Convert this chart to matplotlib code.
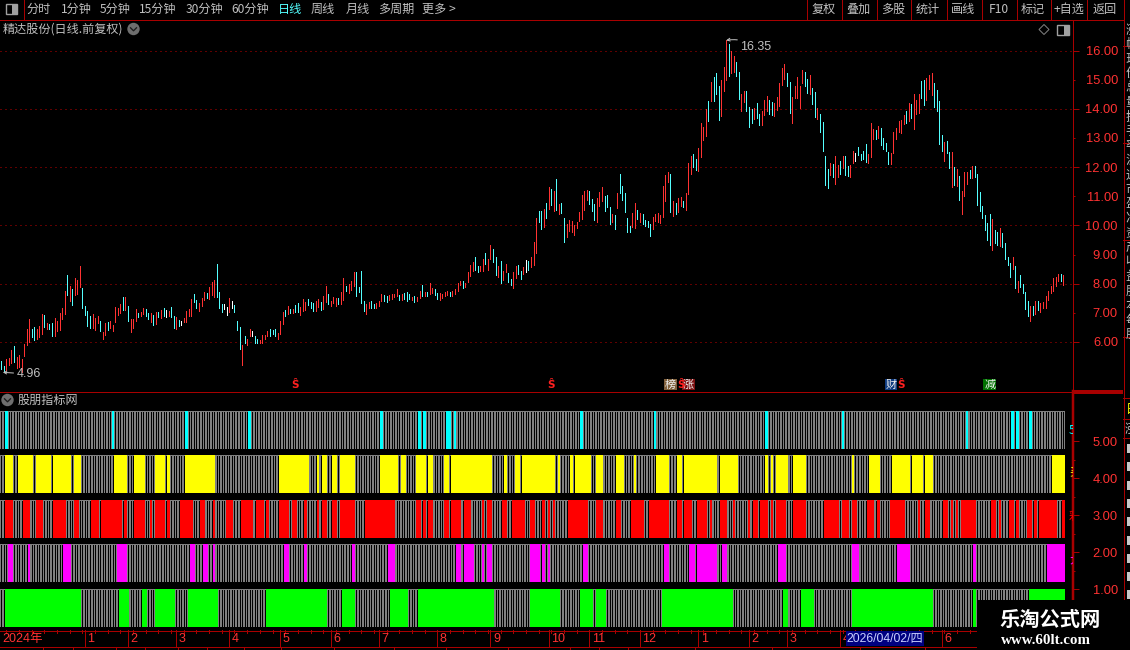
import numpy as np
import matplotlib
matplotlib.use("Agg")
import matplotlib.pyplot as plt
from matplotlib.patches import Rectangle, Circle, Polygon

CJK = ['Noto Sans CJK SC', 'DejaVu Sans']
NUM = ['Liberation Sans', 'Noto Sans CJK SC']
plt.rcParams['font.family'] = CJK

# ---------- daily bars ----------
highs = [
 5.35,5.18,5.41,5.44,5.73,5.86,5.47,5.55,5.42,5.92,
 6.45,6.79,6.43,6.50,6.43,6.55,6.96,6.93,6.64,6.62,
 6.64,6.81,6.73,6.98,7.16,7.75,8.30,7.92,7.81,8.18,
 8.13,8.61,7.86,7.24,7.08,6.90,6.96,6.81,6.90,6.72,
 6.36,6.64,6.70,6.72,6.58,7.21,7.16,7.29,7.54,7.54,
 7.24,6.79,6.78,7.13,7.01,7.04,7.18,7.13,6.98,7.01,
 6.93,7.04,7.02,7.10,7.16,7.10,7.08,7.21,6.89,6.85,
 6.76,6.73,6.81,7.06,7.12,7.46,7.65,7.44,7.35,7.52,
 7.73,7.69,7.88,8.05,8.13,8.68,7.73,7.30,7.30,7.19,
 7.52,7.41,7.27,6.72,6.50,5.90,6.21,6.10,6.45,6.38,
 6.21,6.10,6.07,6.24,6.24,6.38,6.45,6.41,6.45,6.32,
 6.72,7.04,7.10,7.24,7.12,7.12,7.27,7.35,7.21,7.48,
 7.38,7.46,7.36,7.33,7.41,7.46,7.38,7.58,7.92,7.65,
 7.42,7.56,7.50,7.50,7.70,8.18,7.92,7.99,8.10,8.39,
 8.41,7.87,
 8.44,7.41,7.30,7.38,7.41,7.30,7.34,7.41,7.65,7.61,
 7.58,7.61,7.65,7.65,7.82,7.61,7.63,7.68,7.71,7.65,
 7.55,7.58,7.54,7.75,7.95,7.71,7.71,8.02,7.85,7.82,
 7.68,7.68,7.65,7.71,7.75,7.71,7.75,7.82,8.02,8.09,
 8.09,8.02,8.40,8.64,8.74,8.92,8.61,8.61,8.85,9.05,
 8.85,9.33,9.19,8.92,8.61,8.78,8.44,8.68,8.37,8.16,
 8.40,8.61,8.64,8.44,8.57,8.81,8.78,8.92,9.43,
 10.24,10.49,10.49,10.56,10.77,11.31,11.25,11.18,11.59,10.73,
 10.77,10.25,10.05,10.18,10.15,10.01,10.11,10.46,11.04,11.18,
 11.21,11.18,10.90,10.73,10.94,11.14,11.31,11.00,11.04,10.63,
 10.39,10.35,11.11,11.76,11.35,11.11,10.25,9.98,10.42,10.77,
 10.53,10.42,10.39,10.18,10.15,10.05,10.29,10.39,10.42,10.35,
 11.35,11.73,11.83,11.76,10.83,10.77,10.94,10.97,10.83,11.11,
 12.14,12.38,12.45,12.28,12.65,
 13.50,13.36,14.01,14.26,14.92,15.09,15.22,14.78,14.98,15.43,
 16.35,16.21,15.98,15.81,15.60,15.26,14.50,14.61,14.61,14.06,
 13.99,14.02,14.20,13.82,13.92,14.30,14.44,14.30,14.23,14.20,
 14.40,14.88,15.40,15.53,15.22,14.92,14.40,14.78,15.09,14.78,
 15.33,15.26,15.02,15.16,14.71,14.57,14.02,13.82,13.54,12.38,
 11.93,12.13,12.10,12.38,12.07,12.21,12.38,12.38,12.03,12.07,
 12.55,12.48,12.69,12.45,12.55,12.79,12.45,13.51,13.30,13.27,
 13.41,13.34,13.00,12.82,12.51,12.48,13.20,13.34,13.58,13.61,
 13.78,13.92,14.20,14.16,14.50,14.30,14.50,14.95,14.98,15.05,
 15.16,15.22,14.88,14.64,14.26,13.10,12.86,12.89,12.51,12.51,
 12.00,11.93,11.69,
 11.18,11.83,11.83,11.90,12.04,12.04,11.76,11.14,10.66,10.36,
 10.08,10.39,10.22,9.84,9.77,9.91,9.74,9.40,8.92,8.71,
 8.92,8.61,8.09,8.30,7.99,7.71,7.41,7.23,7.23,7.41,
 7.41,7.34,7.37,7.58,7.75,7.92,8.19,8.23,8.33,8.33,8.30,
]
lows = [
 5.07,4.96,5.04,5.21,5.27,5.33,5.10,5.15,4.98,5.52,
 5.90,5.99,6.16,6.07,6.09,6.16,6.27,6.50,6.43,6.45,
 6.21,6.21,6.39,6.41,6.79,6.96,7.61,7.41,7.27,7.61,
 7.65,7.90,7.18,6.93,6.55,6.47,6.49,6.41,6.66,6.38,
 6.10,6.24,6.41,6.49,6.38,6.70,6.93,6.98,7.10,7.10,
 6.72,6.36,6.47,6.72,6.87,6.89,6.96,6.89,6.78,6.70,
 6.58,6.62,6.87,6.83,6.89,6.87,6.89,6.85,6.49,6.45,
 6.55,6.58,6.67,6.67,6.90,6.90,7.36,7.16,7.06,7.24,
 7.44,7.50,7.48,7.61,7.56,7.56,7.16,7.04,7.12,6.93,
 7.02,7.16,7.02,6.41,5.76,5.21,5.96,5.90,6.21,6.21,
 5.98,5.98,5.98,5.98,6.09,6.21,6.22,6.26,6.21,6.10,
 6.27,6.62,6.90,6.95,6.98,6.98,7.02,7.02,6.93,7.08,
 7.10,7.27,7.16,7.08,7.06,7.19,7.10,7.13,7.36,7.30,
 7.24,7.33,7.24,7.29,7.30,7.44,7.75,7.69,7.78,7.93,
 7.58,7.73,
 7.33,7.06,6.96,7.18,7.18,7.17,7.18,7.23,7.41,7.42,
 7.37,7.44,7.46,7.54,7.58,7.44,7.44,7.47,7.41,7.47,
 7.44,7.37,7.41,7.51,7.58,7.58,7.58,7.65,7.68,7.61,
 7.47,7.44,7.51,7.58,7.61,7.58,7.58,7.65,7.75,7.95,
 7.85,7.89,8.06,8.26,8.44,8.47,8.40,8.44,8.44,8.68,
 8.47,8.85,8.74,8.30,8.23,8.02,8.13,8.40,8.06,7.95,
 7.85,8.20,8.33,8.16,8.33,8.40,8.47,8.57,8.64,
 9.05,10.11,9.87,9.94,10.25,10.56,10.70,10.48,10.53,10.39,
 10.42,9.43,9.60,9.81,9.77,9.67,9.91,10.15,10.22,10.53,
 10.87,10.73,10.49,10.18,10.11,10.66,10.83,10.49,10.63,10.05,
 10.11,9.87,10.59,11.11,10.87,10.46,9.77,9.77,9.94,9.91,
 10.22,10.11,10.05,9.98,9.94,9.63,9.87,10.15,10.11,10.08,
 10.29,10.83,11.49,10.46,10.32,10.39,10.46,10.66,10.63,10.53,
 11.07,11.76,12.00,11.90,11.86,
 12.34,12.93,13.06,13.59,14.26,14.26,14.50,13.61,13.75,14.61,
 14.98,15.12,15.24,15.27,15.12,14.33,13.92,14.23,13.92,13.37,
 13.51,13.65,13.68,13.44,13.44,13.78,13.92,13.82,13.78,13.75,
 13.96,14.09,14.81,15.02,14.78,13.85,13.51,14.37,14.37,14.02,
 14.88,14.78,14.54,14.50,14.16,13.72,13.65,13.20,12.55,11.38,
 11.28,11.73,11.66,11.42,11.66,11.76,11.97,11.73,11.71,11.66,
 12.14,12.21,12.41,12.24,12.27,12.17,12.14,12.34,12.96,12.96,
 13.00,12.75,12.62,12.55,12.10,12.10,12.48,12.96,13.20,13.17,
 13.48,13.51,13.58,13.68,13.30,13.82,13.85,14.37,14.13,14.30,
 14.68,14.47,14.06,13.92,12.79,12.55,12.21,12.48,11.97,11.31,
 11.38,11.35,10.87,
 10.39,11.01,11.42,11.62,11.62,11.66,10.70,10.49,10.25,9.84,
 9.50,9.33,9.16,9.40,9.33,9.29,9.26,8.85,8.64,8.23,
 8.50,7.85,7.71,7.89,7.68,7.13,6.89,6.72,6.93,6.96,
 7.10,7.03,7.17,7.17,7.44,7.68,7.75,7.92,8.09,8.09,7.95,
]
kinds = (
 "ccrrrcrrrr" "rrccrrrcrc" "crrrrrcrcr" "rrccccrrrc" "rrcrrrrrcr"
 "crrrcrrccr" "crcrcwrccr" "cwrrrrccrr" "rcrrrcccww" "rwcccrcrrw"
 "ccrrrrcccr" "rrcrcrccrr" "rcccrrcrrc" "rrrcrrcrrr" "cc"
 "ccrrccrrrc" "crrrrcrccc" "rcrrcrcrrc" "crrrrcrrrr" "crrrrccrrc"
 "rrccrcrrcc" "rrccrwcrr"
 "rccrcrcrcr" "ccrrrrrrrr" "rcccrrrccc" "rcrcccccrr" "crccccrrrr"
 "rrrcrcrrcr" "rrccr"
 "rrrcrcccrr" "rcrrccrrcc" "crccrrrccr" "rrrrccrrrr" "rccrccrccc"
 "crcrrcrccr" "rwccccrrrc" "rccccrrrrr" "rcrcrrrccr" "rrccccrccr" "crc"
 "rrrcrccccc" "ccrccrcccc" "rcrccccrcr" "crrrrrrrrcr"
)
kind_colors = {'r': '#ff3232', 'c': '#54ffff', 'w': '#ffffff'}

price_major = [6, 8, 10, 12, 14, 16]
price_minor = [7, 9, 11, 13, 15]
high_label = 16.35
low_label = 4.96

# ---------- indicator strips: runs of highlighted bars ----------
cyan_runs = [(2,2),(44,44),(73,73),(98,98),(150,150),(165,165),(167,167),(176,177),(179,179),
             (229,229),(258,258),(302,302),(332,332),(381,381),(399,399),(401,401),(406,406)]
yellow_runs = [(2,4),(7,12),(14,19),(21,27),(29,31),(45,49),(53,56),(61,64),(66,66),(73,84),
               (110,121),(125,125),(127,128),(131,132),(134,139),(150,156),(158,159),(164,167),
               (169,170),(175,176),(178,193),(199,199),(203,204),(206,218),(220,220),(225,225),
               (227,232),(235,237),(243,245),(250,250),(259,263),(267,268),(270,282),(284,290),
               (302,302),(304,304),(306,310),(313,317),(336,336),(343,346),(352,358),(360,363),
               (365,367),(415,419)]
red_runs = [(2,4),(9,11),(14,16),(21,25),(29,30),(36,38),(40,47),(49,49),(53,56),(59,59),
            (61,64),(66,66),(71,75),(79,80),(84,84),(89,91),(95,99),(101,103),(105,105),
            (110,113),(115,116),(120,120),(125,125),(127,128),(131,132),(134,139),(144,155),
            (164,165),(167,167),(169,170),(175,176),(178,181),(183,185),(190,190),(192,193),
            (198,199),(202,206),(209,210),(214,214),(216,216),(218,218),(224,231),(235,237),
            (243,244),(249,253),(256,263),(267,268),(270,272),(275,278),(280,280),(284,286),
            (289,289),(295,295),(297,298),(300,302),(304,304),(306,309),(313,317),(325,330),
            (332,334),(336,337),(342,344),(346,346),(351,356),(362,362),(365,366),(372,373),
            (375,375),(377,377),(379,384),(391,392),(394,394),(398,399),(401,401),(405,406),
            (408,408),(410,416),(419,419)]
magenta_runs = [(3,4),(11,11),(25,27),(46,49),(75,76),(80,81),(84,84),(112,113),(120,120),
                (139,139),(153,155),(180,181),(183,186),(190,190),(192,193),(209,212),(214,214),
                (216,216),(230,231),(262,263),(272,273),(275,282),(285,286),(307,309),(336,338),
                (354,358),(384,384),(413,419)]
green_runs = [(2,31),(47,50),(56,57),(61,68),(74,85),(105,128),(135,139),(154,160),(165,194),
              (209,220),(229,233),(235,238),(261,288),(309,310),(316,320),(336,367),(384,384),
              (406,419)]
strip_runs = [cyan_runs, yellow_runs, red_runs, magenta_runs, green_runs]
strip_colors = ['#00ffff', '#ffff00', '#ff0000', '#ff00ff', '#00ff00']
strip_tops = [5.82, 4.63, 3.41, 2.22, 1.01]
strip_bottoms = [4.79, 3.60, 2.39, 1.20, -0.02]
ind_major = [1, 2, 3, 4, 5]
ind_minor = [1.5, 2.5, 3.5, 4.5]

# ---------- time axis ----------
month_bars = [33, 50, 69, 90, 110, 130, 149, 172, 193, 216, 232, 252, 275, 295, 310, 331, 371]
month_names = ['1', '2', '3', '4', '5', '6', '7', '8', '9', '10', '11', '12', '1', '2', '3', '4', '6']

# ---------- event flags on the price pane ----------
s_bars = [116, 217, 268, 355]
flag_bars = [264, 271, 351, 390]
flag_text = ['榜', '涨', '财', '减']
flag_back = ['#80603c', '#7a1010', '#103c80', '#007000']

toolbar_left = ['分时', '1分钟', '5分钟', '15分钟', '30分钟', '60分钟', '日线', '周线', '月线', '多周期', '更多 >']
toolbar_left_x = [39, 76, 115, 158, 204, 250, 290, 323, 358, 396, 439]
toolbar_right = ['复权', '叠加', '多股', '统计', '画线', 'F10', '标记', '+自选', '返回']
toolbar_right_x = [824, 858, 893, 928, 963, 999, 1033, 1069, 1105]
toolbar_seps = [807, 841.5, 876.5, 911, 946.5, 981.5, 1016.5, 1051, 1087]

# ---------- layout ----------
W, H = 1130, 650
DARKRED = '#a80000'
LABEL_RED = '#ff3232'
GRAY_TXT = '#c0c0c0'
n = len(highs)
s = (1063.3 - 1.3) / (n - 1)
PT = 0.72

fig = plt.figure(figsize=(W / 100, H / 100), dpi=100, facecolor='black')

def box(x0, y0, x1, y1, **kw):
    a = fig.add_axes([x0 / W, 1 - y1 / H, (x1 - x0) / W, (y1 - y0) / H], **kw)
    a.set_facecolor('black')
    return a

AX_R = 1072.5
x_lim = ((0 - 1.3) / s, (AX_R - 1.3) / s)
idx = np.arange(n)

def style_value_axis(a, majors, minors, lw, minor_labels):
    for k in ('top', 'left', 'bottom'):
        a.spines[k].set_visible(False)
    a.spines['right'].set_color(DARKRED)
    a.spines['right'].set_linewidth(lw * PT)
    a.set_xticks([])
    a.yaxis.tick_right()
    a.set_yticks(majors, [f'{v:.2f}' for v in majors])
    a.set_yticks(minors, [f'{v:.2f}' for v in minors] if minor_labels else [''] * len(minors), minor=True)
    a.tick_params(axis='y', which='major', length=6 * PT, width=PT, color=DARKRED,
                  labelcolor=LABEL_RED, labelsize=9.3, pad=(1118 - AX_R - 6) * PT)
    a.tick_params(axis='y', which='minor', length=2.5 * PT, width=PT, color=DARKRED,
                  labelcolor=LABEL_RED, labelsize=9.3, pad=(1118 - AX_R - 2.5) * PT)
    for lab in a.get_yticklabels() + a.get_yticklabels(minor=True):
        lab.set_ha('right')
        lab.set_family(NUM)

# price pane
ax = box(0, 20, AX_R, 391)
ax.set_xlim(*x_lim)
ax.set_ylim(16 - (391 - 50.5) / 29.15, 16 + (50.5 - 20) / 29.15)
style_value_axis(ax, price_major, price_minor, 1, True)
ax.grid(axis='y', which='major', color='#c00000', lw=PT, ls=(0, (1, 4)), snap=True, zorder=0)
ax.set_axisbelow(True)
ax.vlines(idx, lows, highs, colors=[kind_colors[k] for k in kinds], lw=PT, antialiased=False, zorder=3)

i_hi = int(np.argmax(highs))
i_lo = int(np.argmin(lows))
ax.annotate(f'{high_label:.2f}', xy=(i_hi, high_label), xytext=(10, -4.6), textcoords='offset points',
            color=GRAY_TXT, fontsize=9, family=NUM, va='center', annotation_clip=False, zorder=5,
            arrowprops=dict(arrowstyle='->', color=GRAY_TXT, lw=PT, shrinkA=0, shrinkB=0,
                            connectionstyle='arc3,rad=0.2', mutation_scale=5))
ax.annotate(f'{low_label:.2f}', xy=(i_lo - 0.4, low_label), xytext=(9.7, -1.2), textcoords='offset points',
            color=GRAY_TXT, fontsize=9, family=NUM, va='center', annotation_clip=False, zorder=5,
            arrowprops=dict(arrowstyle='->', color=GRAY_TXT, lw=PT, shrinkA=0, shrinkB=0, mutation_scale=5))

flag_y = 16 - (384.5 - 50.5) / 29.15
for b in s_bars:
    ax.text(b, flag_y, 'Ŝ', color='#ff2020', fontsize=7.5, fontweight='bold', family='DejaVu Sans',
            ha='center', va='center', zorder=6)
for b, t, bg in zip(flag_bars, flag_text, flag_back):
    ax.text(b, flag_y, t, color='#f0f0f0', fontsize=8, ha='center', va='center', zorder=5,
            bbox=dict(facecolor=bg, edgecolor='none', pad=0.6))

# indicator pane
ax2 = box(0, 391, AX_R, 630)
ax2.set_xlim(*x_lim)
ax2.set_ylim(5 - (630 - 441.3) / 37, 5 + (441.3 - 391) / 37)
style_value_axis(ax2, ind_major, ind_minor, 2.5, False)
for runs, col, lo, hi in zip(strip_runs, strip_colors, strip_bottoms, strip_tops):
    flag = np.zeros(n, dtype=bool)
    ax2.bar((n - 1) / 2, hi - lo, bottom=lo, width=n, color='#808080', linewidth=0, antialiased=False, zorder=2)
    for a0, a1 in runs:
        flag[a0:a1 + 1] = True
    ax2.vlines(idx[~flag], lo + 0.03, hi - 0.03, colors='black', lw=PT, antialiased=False, zorder=3)
    for a0, a1 in runs:
        ax2.bar((a0 + a1) / 2, hi - lo, bottom=lo, width=a1 - a0 + 1, color=col, linewidth=0,
                antialiased=False, zorder=4)

side_labels = [('5', '#00ffff', 430), ('买', '#ffff00', 472), ('彩', '#ff0000', 516), ('大', '#ff00ff', 560)]
for t, c, py in side_labels:
    ax2.text((1069 - 1.3) / s, 5 - (py - 441.3) / 37, t, color=c, fontsize=8.5, ha='left', va='center', clip_on=True)

# time axis
ax3 = box(0, 630, 1130, 647)
ax3.axis('off')
ax3.set_xlim(-1.3 / s, (1130 - 1.3) / s)
ax3.set_ylim(1, 0)
ax3.vlines(np.arange(2, n, 5), 0, 0.15, colors=DARKRED, lw=PT, antialiased=False)
ax3.vlines(month_bars, 0, 1, colors=DARKRED, lw=PT, antialiased=False)
for b, name in zip(month_bars, month_names):
    ax3.text(b + 1, 0.52, name, color=LABEL_RED, fontsize=9, family=NUM, va='center', ha='left')
ax3.text(0.3, 0.52, '2024年', color=LABEL_RED, fontsize=9, family=NUM, va='center', ha='left')

# window chrome
ui = fig.add_axes([0, 0, 1, 1], zorder=10)
ui.set_xlim(0, W)
ui.set_ylim(H, 0)
ui.axis('off')
ui.patch.set_alpha(0)

def hl(y, x0, x1, lw=1, c=DARKRED):
    ui.plot([x0, x1], [y, y], color=c, lw=lw * PT, antialiased=False, solid_capstyle='butt')
def vl(x, y0, y1, lw=1, c=DARKRED):
    ui.plot([x, x], [y0, y1], color=c, lw=lw * PT, antialiased=False, solid_capstyle='butt')

hl(19.5, 0, 1123)
vl(23.5, 0, 19)
for x in toolbar_seps:
    vl(x, 0, 19)
vl(1123.5, 0, 600)
hl(391.5, 0, 1072)
hl(391.5, 1072, 1123, lw=2.5)
hl(630.5, 0, 977)
hl(646.5, 0, 977)
for x in [43, 73, 116, 145, 178, 207, 244, 281, 334, 394, 446, 508, 570, 599, 628, 695, 772, 860, 925]:
    vl(x, 647, 650)

for t, x in zip(toolbar_left, toolbar_left_x):
    ui.text(x, 9.5, t, color='#54ffff' if t == '日线' else GRAY_TXT, fontsize=8.7, ha='center', va='center')
for t, x in zip(toolbar_right, toolbar_right_x):
    ui.text(x, 9.5, t, color=GRAY_TXT, fontsize=8.7, ha='center', va='center')

def split_icon(x0, y0, x1, y1):
    ui.add_patch(Rectangle((x0, y0), x1 - x0, y1 - y0, fc='none', ec='#a0a0a0', lw=1.4 * PT))
    ui.add_patch(Rectangle(((x0 + x1) / 2 + 1, y0), (x1 - x0) / 2 - 1, y1 - y0, fc='#a0a0a0', ec='none'))

def chevron(cx, cy):
    ui.add_patch(Circle((cx, cy), 6.2, fc='#6e6e6e', ec='none'))
    ui.plot([cx - 3, cx, cx + 3], [cy - 1.2, cy + 1.8, cy - 1.2], color='#1c1c1c', lw=1.3 * PT)

split_icon(5.5, 4, 17, 14)
split_icon(1057, 24.5, 1068.5, 34.5)
ui.add_patch(Polygon([(1044, 24.5), (1049, 29.5), (1044, 34.5), (1039, 29.5)], fc='none', ec='#808080', lw=PT))
chevron(133.5, 29)
chevron(7.5, 400)
ui.text(3, 29, '精达股份(日线.前复权)', color=GRAY_TXT, fontsize=8.7, ha='left', va='center')
ui.text(18, 400, '股朋指标网', color=GRAY_TXT, fontsize=8.7, ha='left', va='center')

# date cursor box
ui.add_patch(Rectangle((845.5, 631), 78, 15, fc='#000080', ec='none', zorder=4))
ui.text(884.5, 638.5, '2026/04/02/四', color='#c8d0ff', fontsize=8.8, family=NUM, ha='center', va='center', zorder=5)

# far-right clipped column
col_chars = list('涨幅现价总量换手率流通市盈净资产收益股本每股')
for k, ch in enumerate(col_chars):
    ui.text(1125.5, 30 + k * 14.5, ch, color='#bdbdbd', fontsize=9, ha='left', va='center', clip_on=False)
for y in [45, 142, 239, 336, 397, 418, 437]:
    hl(y + 0.5, 1123, 1130)
ui.text(1126, 410, '日', color='#ffff00', fontsize=9, ha='left', va='center')
ui.text(1125, 429, '涨', color='#bdbdbd', fontsize=9, ha='left', va='center')
for y in np.arange(444, 600, 18.3):
    ui.add_patch(Rectangle((1127, y), 3, 9, fc='#c8c8c8', ec='none'))

# watermark
ui.add_patch(Rectangle((977, 600), 153, 50, fc='black', ec='none', zorder=8))
ui.text(1050, 619, '乐淘公式网', color='white', fontsize=14.6, fontweight='bold', ha='center', va='center', zorder=9)
ui.text(1046, 640, 'www.60lt.com', color='white', fontsize=10.8, fontweight='bold',
        family='Liberation Serif', ha='center', va='center', zorder=9)

fig.savefig('out.png', dpi=100, facecolor='black')
